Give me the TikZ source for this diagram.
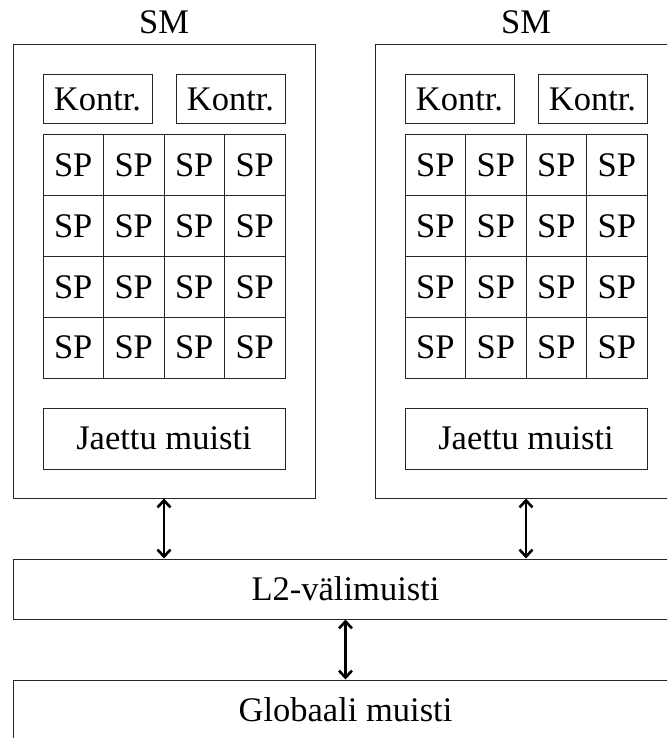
\documentclass[tikz,border=0pt]{standalone}
\usepackage{fontspec}
\setmainfont{Liberation Serif}
\usetikzlibrary{arrows.meta}

\tikzset{
  box/.style={draw=black!85, line width=1pt, inner sep=0pt, anchor=center},
  cell/.style={box, minimum width=60.5pt, minimum height=60.75pt},
  ctrl/.style={box, minimum width=109pt, minimum height=49pt},
  shmem/.style={box, minimum width=242pt, minimum height=61pt},
  smbox/.style={box, minimum width=302pt, minimum height=453pt},
  wide/.style={box, minimum width=665pt, minimum height=60pt},
  link/.style={line width=2.6pt, {Straight Barb[length=7pt,width=13pt]}-{Straight Barb[length=7pt,width=13pt]}},
}

\begin{document}
\begin{tikzpicture}[x=1pt, y=-1pt, font=\fontsize{34.5}{40}\selectfont]
  \useasboundingbox (0,0) rectangle (667,738);
  \clip (0,0) rectangle (667,738);

  % two streaming multiprocessors
  \foreach \s/\dx in {1/0, 2/362} {
    \node[smbox] (sm\s) at (164+\dx, 271.5) {};
    \node (lab\s) at (164+\dx, 22) {SM};
    \node[ctrl] (ka\s) at (97.5+\dx, 99.5) {Kontr.};
    \node[ctrl] (kb\s) at (230.5+\dx, 99.5) {Kontr.};
    \foreach \r in {0,...,3} {
      \foreach \c in {0,...,3} {
        \node[cell] (sp\s-\r-\c) at ({73.25+60.5*\c+\dx}, {165.375+60.75*\r}) {SP};
      }
    }
    \node[shmem] (jm\s) at (164+\dx, 438.5) {Jaettu muisti};
  }

  % memory hierarchy below
  \node[wide] (l2) at (345.5, 589) {L2-välimuisti};
  \node[wide] (gm) at (345.5, 710) {Globaali muisti};

  % connections
  \draw[link] (sm1.south) -- (sm1.south |- l2.north);
  \draw[link] (sm2.south) -- (sm2.south |- l2.north);
  \draw[link] (l2.south) -- (gm.north);
\end{tikzpicture}
\end{document}
